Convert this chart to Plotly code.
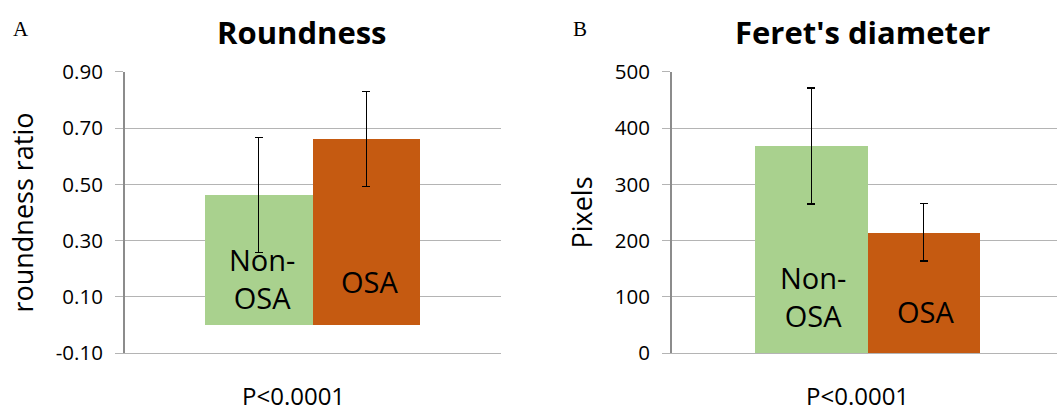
import plotly.graph_objects as go

# Group labels and measurements
categories = ["Non-OSA", "OSA"]
bar_labels = ["Non-<br>OSA", "OSA"]
roundness_mean = [0.462, 0.661]
roundness_sd = [0.205, 0.170]
feret_mean = [368, 215]
feret_sd = [103, 51]
p_label = "P<0.0001"

# Axis ticks
roundness_ticks = [-0.10, 0.10, 0.30, 0.50, 0.70, 0.90]
roundness_ticktext = ["-0.10", "0.10", "0.30", "0.50", "0.70", "0.90"]
feret_ticks = [0, 100, 200, 300, 400, 500]

green = "#A9D18E"
orange = "#C55A11"
grid_col = "#B4B4B4"
axis_col = "#8C8C8C"
font_fam = "Open Sans"

W, H = 1057, 413

fig = go.Figure()

fig.add_trace(go.Bar(
    x=categories, y=roundness_mean, width=1,
    marker=dict(color=[green, orange], line=dict(width=0)),
    error_y=dict(type="data", array=roundness_sd, color="#000000",
                 thickness=1.2, width=4),
    xaxis="x", yaxis="y", showlegend=False, hoverinfo="skip",
))
fig.add_trace(go.Bar(
    x=categories, y=feret_mean, width=1,
    marker=dict(color=[green, orange], line=dict(width=0)),
    error_y=dict(type="data", array=feret_sd, color="#000000",
                 thickness=1.2, width=4),
    xaxis="x2", yaxis="y2", showlegend=False, hoverinfo="skip",
))

def px_x(p):
    return p / W

def px_y(p):
    return 1 - p / H

ydom = [px_y(353.3), px_y(71.7)]

common_y = dict(
    showgrid=True, gridcolor=grid_col, gridwidth=1.3,
    showline=True, linecolor=axis_col, linewidth=2,
    ticks="outside", ticklen=8, tickcolor=grid_col, tickwidth=1.3,
    tickfont=dict(family=font_fam, size=20.5, color="#000000"),
    zeroline=False, ticklabelstandoff=8, automargin=False,
)
common_x = dict(
    showgrid=False, showticklabels=False, ticks="",
    showline=True, linecolor=grid_col, linewidth=1.3, zeroline=False,
    automargin=False,
)

fig.update_layout(
    width=W, height=H,
    margin=dict(l=0, r=0, t=0, b=0, autoexpand=False),
    paper_bgcolor="white", plot_bgcolor="white",
    bargap=0, bargroupgap=0,
    xaxis=dict(domain=[px_x(125), px_x(501)], range=[-1.242, 2.249],
               anchor="y", **common_x),
    yaxis=dict(domain=ydom, range=[-0.10, 0.90],
               tickmode="array", tickvals=roundness_ticks, ticktext=roundness_ticktext,
               anchor="x",
               title=dict(text="roundness ratio",
                          font=dict(family=font_fam, size=27, color="#000000"),
                          standoff=14),
               **common_y),
    xaxis2=dict(domain=[px_x(672), px_x(1057)], range=[-1.244, 2.19],
                anchor="y2", **common_x),
    yaxis2=dict(domain=ydom, range=[0, 500],
                tickmode="array", tickvals=feret_ticks, anchor="x2",
                title=dict(text="Pixels",
                           font=dict(family=font_fam, size=27, color="#000000"),
                           standoff=14),
                **common_y),
)

ann = []
# Panel titles and letters
ann.append(dict(text="<b>Roundness</b>", x=px_x(302), y=px_y(32), xref="paper", yref="paper",
                showarrow=False, font=dict(family=font_fam, size=31, color="#000000"),
                xanchor="center", yanchor="middle"))
ann.append(dict(text="<b>Feret's diameter</b>", x=px_x(862), y=px_y(32), xref="paper", yref="paper",
                showarrow=False, font=dict(family=font_fam, size=31, color="#000000"),
                xanchor="center", yanchor="middle"))
ann.append(dict(text="A", x=px_x(11), y=px_y(29), xref="paper", yref="paper",
                showarrow=False, font=dict(family="Liberation Serif", size=21, color="#000000"),
                xanchor="left", yanchor="middle"))
ann.append(dict(text="B", x=px_x(571), y=px_y(29), xref="paper", yref="paper",
                showarrow=False, font=dict(family="Liberation Serif", size=21, color="#000000"),
                xanchor="left", yanchor="middle"))
# Significance labels under each panel
ann.append(dict(text=p_label, x=px_x(293), y=0, xref="paper", yref="paper",
                showarrow=False, font=dict(family=font_fam, size=24, color="#000000"),
                xanchor="center", yanchor="bottom", borderpad=0))
ann.append(dict(text=p_label, x=px_x(857), y=0, xref="paper", yref="paper",
                showarrow=False, font=dict(family=font_fam, size=24, color="#000000"),
                xanchor="center", yanchor="bottom", borderpad=0))

# Group names written inside the bars, near the base
label_shift_left = [6, 22]
label_shift_right = [16, 20]
for i, lab in enumerate(bar_labels):
    ann.append(dict(text=lab, x=categories[i], y=0, xref="x", yref="y",
                    showarrow=False, font=dict(family=font_fam, size=29, color="#000000"),
                    xanchor="center", yanchor="bottom", yshift=label_shift_left[i],
                    xshift=3))
    ann.append(dict(text=lab, x=categories[i], y=0, xref="x2", yref="y2",
                    showarrow=False, font=dict(family=font_fam, size=29, color="#000000"),
                    xanchor="center", yanchor="bottom", yshift=label_shift_right[i],
                    xshift=2))

fig.update_layout(annotations=ann)

fig.write_html("out.html")
